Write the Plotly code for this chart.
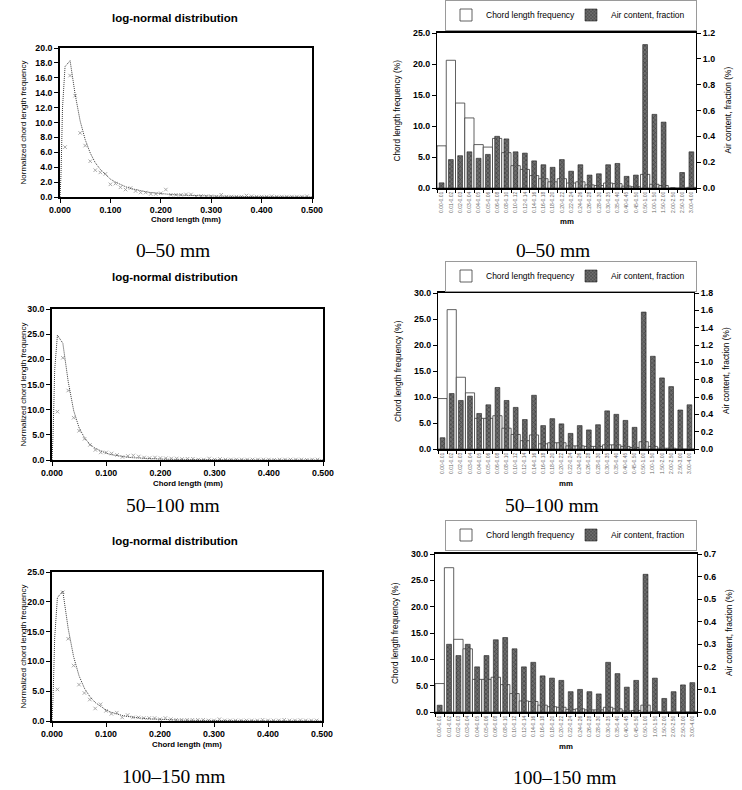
import plotly.graph_objects as go

W, H = 742, 790

# ---------------- data: log-normal panels ----------------
marker_x = [0.01, 0.02, 0.03, 0.04, 0.05, 0.06, 0.07, 0.08, 0.09, 0.10,
            0.11, 0.12, 0.13, 0.14, 0.15, 0.16, 0.17, 0.18, 0.19, 0.20,
            0.21, 0.22, 0.23, 0.24, 0.25, 0.26, 0.27, 0.28, 0.29, 0.30,
            0.31, 0.32, 0.33, 0.34, 0.35, 0.36, 0.37, 0.38, 0.39, 0.40,
            0.41, 0.42, 0.43, 0.44, 0.45, 0.46, 0.47, 0.48, 0.49]

meas_0_50 = [6.7, 16.3, 13.6, 8.6, 6.9, 4.8, 3.6, 3.3, 3.1, 1.7,
             1.8, 1.3, 1.0, 1.2, 0.8, 0.6, 0.6, 0.4, 0.4, 0.5,
             1.0, 0.3, 0.3, 0.3, 0.35, 0.35, 0.1, 0.15, 0.1, 0.1,
             0.05, 0.3, 0.05, 0.05, 0.05, 0.05, 0.2, 0.1, 0.05, 0.05,
             0.05, 0.1, 0.05, 0.05, 0.05, 0.05, 0.05, 0.05, 0.1]
meas_50_100 = [9.6, 20.3, 13.8, 8.4, 5.8, 4.2, 3.0, 2.0, 1.5, 1.5,
               1.3, 1.0, 0.6, 0.8, 0.9, 0.7, 0.5, 0.4, 0.5, 0.4,
               0.35, 0.3, 0.3, 0.2, 0.25, 0.25, 0.1, 0.1, 0.3, 0.1,
               0.2, 0.1, 0.1, 0.1, 0.1, 0.1, 0.1, 0.1, 0.1, 0.1,
               0.05, 0.1, 0.1, 0.1, 0.1, 0.1, 0.05, 0.1, 0.1]
meas_100_150 = [5.3, 21.6, 13.8, 9.3, 6.1, 4.7, 3.6, 2.1, 2.8, 1.7,
                1.2, 1.4, 0.6, 1.0, 0.6, 0.6, 0.5, 0.5, 0.5, 0.3,
                0.5, 0.3, 0.2, 0.2, 0.2, 0.2, 0.2, 0.2, 0.1, 0.1,
                0.3, 0.1, 0.1, 0.1, 0.1, 0.1, 0.1, 0.1, 0.2, 0.1,
                0.1, 0.1, 0.2, 0.1, 0.1, 0.15, 0.1, 0.1, 0.1]

fit_x = [0.0, 0.002, 0.005, 0.01, 0.02, 0.03, 0.04, 0.05, 0.06, 0.07, 0.08,
         0.09, 0.10, 0.11, 0.12, 0.13, 0.14, 0.15, 0.16, 0.17, 0.18, 0.19,
         0.20, 0.22, 0.24, 0.26, 0.28, 0.30, 0.35, 0.40, 0.45, 0.50]
fit_0_50 = [0.0, 3.0, 12.0, 17.5, 18.3, 13.8, 10.2, 7.7, 5.9, 4.6, 3.7,
            3.0, 2.4, 2.0, 1.65, 1.38, 1.15, 0.97, 0.82, 0.70, 0.60, 0.52,
            0.45, 0.34, 0.26, 0.20, 0.16, 0.125, 0.072, 0.043, 0.026, 0.017]
fit_50_100 = [0.0, 5.0, 18.0, 24.8, 23.2, 15.5, 9.8, 6.4, 4.4, 3.1, 2.3,
              1.75, 1.35, 1.05, 0.84, 0.68, 0.55, 0.45, 0.37, 0.31, 0.26, 0.22,
              0.19, 0.14, 0.105, 0.08, 0.062, 0.048, 0.027, 0.016, 0.010, 0.006]
fit_100_150 = [0.0, 4.0, 14.0, 20.7, 21.8, 15.5, 10.8, 7.6, 5.5, 4.1, 3.1,
               2.4, 1.85, 1.45, 1.15, 0.93, 0.76, 0.62, 0.51, 0.43, 0.36, 0.31,
               0.26, 0.19, 0.145, 0.11, 0.085, 0.066, 0.038, 0.023, 0.014, 0.009]

# ---------------- data: bar panels ----------------
bins = ["0.00-0.01", "0.01-0.02", "0.02-0.03", "0.03-0.04", "0.04-0.05",
        "0.05-0.06", "0.06-0.08", "0.08-0.10", "0.10-0.12", "0.12-0.14",
        "0.14-0.16", "0.16-0.18", "0.18-0.20", "0.20-0.22", "0.22-0.24",
        "0.24-0.26", "0.26-0.28", "0.28-0.30", "0.30-0.35", "0.35-0.40",
        "0.40-0.45", "0.45-0.50", "0.50-1.00", "1.00-1.50", "1.50-2.00",
        "2.00-2.50", "2.50-3.00", "3.00-4.00"]

freq_0_50 = [6.8, 20.6, 13.7, 11.3, 7.0, 6.6, 8.0, 5.7, 3.6, 3.0,
             2.0, 1.5, 1.0, 1.5, 0.8, 1.0, 0.5, 0.4, 0.8, 0.7,
             0.3, 0.2, 2.2, 0.6, 0.4, 0.0, 0.0, 0.1]
air_0_50 = [0.04, 0.22, 0.25, 0.28, 0.23, 0.26, 0.40, 0.38, 0.28, 0.27,
            0.21, 0.18, 0.16, 0.22, 0.13, 0.18, 0.10, 0.11, 0.18, 0.19,
            0.09, 0.10, 1.11, 0.57, 0.51, 0.0, 0.12, 0.28]

freq_50_100 = [9.7, 26.8, 13.8, 10.8, 5.9, 5.9, 6.4, 4.0, 2.8, 1.6,
               2.7, 1.0, 1.2, 1.2, 0.6, 0.6, 0.5, 0.5, 0.8, 0.8,
               0.5, 0.3, 1.4, 0.5, 0.15, 0.15, 0.0, 0.0]
air_50_100 = [0.13, 0.64, 0.56, 0.61, 0.41, 0.51, 0.71, 0.56, 0.48, 0.34,
              0.62, 0.27, 0.35, 0.29, 0.18, 0.27, 0.22, 0.28, 0.44, 0.40,
              0.33, 0.25, 1.58, 1.07, 0.82, 0.72, 0.45, 0.51]

freq_100_150 = [5.4, 27.4, 13.8, 12.0, 6.2, 6.2, 6.6, 5.2, 3.5, 2.1,
                2.0, 1.3, 1.0, 0.9, 0.5, 0.6, 0.4, 0.4, 0.9, 0.6,
                0.2, 0.3, 1.3, 0.1, 0.0, 0.0, 0.0, 0.0]
air_100_150 = [0.03, 0.30, 0.25, 0.30, 0.20, 0.25, 0.32, 0.33, 0.28, 0.20,
               0.22, 0.16, 0.15, 0.14, 0.09, 0.10, 0.09, 0.08, 0.22, 0.17,
               0.11, 0.14, 0.61, 0.15, 0.06, 0.09, 0.12, 0.13]

captions = ["0\u201350 mm", "50\u2013100 mm", "100\u2013150 mm"]

# ---------------- layout helpers ----------------
def xd(a, b):
    return [a / W, b / W]

def yd(top, bot):
    return [1 - bot / H, 1 - top / H]

def px(x):
    return x / W

def py(y):
    return 1 - y / H

SANS = "Liberation Sans, Arial, sans-serif"
SERIF = "Liberation Serif, Times New Roman, serif"

fig = go.Figure()

left_boxes = [(60, 312, 48, 197), (52, 323, 309, 460), (52, 322, 572, 721)]
left_ranges = [(20, 2), (30, 5), (25, 5)]
meas = [meas_0_50, meas_50_100, meas_100_150]
fits = [fit_0_50, fit_50_100, fit_100_150]
title_y = [18, 277, 541]
left_caption_y = [250, 505, 776]

right_boxes = [(437, 696, 33, 188), (438, 694, 293, 449), (435, 697, 554, 712)]
right_left_ranges = [(25, 5), (30, 5), (30, 5)]
right_right_ranges = [(1.2, 0.2), (1.8, 0.2), (0.7, 0.1)]
freqs = [freq_0_50, freq_50_100, freq_100_150]
airs = [air_0_50, air_50_100, air_100_150]
right_caption = [(553, 250), (552, 505), (564, 777)]
legend_mid = [15, 276, 535]

layout = dict(
    width=W, height=H, margin=dict(l=0, r=0, t=0, b=0, autoexpand=False),
    paper_bgcolor="white", plot_bgcolor="white",
    barmode="overlay", showlegend=True,
    font=dict(family=SANS, color="black"),
)

annotations = []


def ann(text, x, y, size, family=SANS, angle=0, color="black"):
    annotations.append(dict(text=text, x=px(x), y=py(y), xref="paper", yref="paper",
                            xanchor="center", yanchor="middle", textangle=angle,
                            showarrow=False,
                            font=dict(family=family, size=size, color=color)))


tick_bold = dict(family=SANS, size=8.8, color="black", weight=700)

for i in range(3):
    n = i + 1
    xl, xr, yt, yb = left_boxes[i]
    xa = "x" if n == 1 else f"x{n}"
    ya = "y" if n == 1 else f"y{n}"
    fig.add_trace(go.Scatter(
        x=marker_x, y=meas[i], mode="markers", xaxis=xa, yaxis=ya,
        marker=dict(symbol="x-thin", size=3.5, line=dict(color="#a0a0a0", width=0.9)),
        showlegend=False))
    fig.add_trace(go.Scatter(
        x=fit_x, y=fits[i], mode="lines", xaxis=xa, yaxis=ya,
        line=dict(color="#3a3a3a", width=1.0, dash="1px,1px"),
        showlegend=False))
    top, dt = left_ranges[i]
    sfx = "" if n == 1 else str(n)
    layout["xaxis" + sfx] = dict(
        domain=xd(xl, xr), anchor=ya, range=[0, 0.5], dtick=0.1, tick0=0,
        tickformat=".3f", showline=True, linecolor="black", linewidth=1.5,
        mirror=True, ticks="outside", ticklen=4, tickwidth=1.2, tickcolor="black",
        showgrid=False, zeroline=False, tickfont=tick_bold)
    layout["yaxis" + sfx] = dict(
        domain=yd(yt, yb), anchor=xa, range=[0, top], dtick=dt, tick0=0,
        tickformat=".1f", showline=True, linecolor="black", linewidth=1.5,
        mirror=True, ticks="outside", ticklen=4, tickwidth=1.2, tickcolor="black",
        showgrid=False, zeroline=False, tickfont=tick_bold)
    ann("<b>log-normal distribution</b>", 175, title_y[i], 11.5)
    ann("<b>Chord length (mm)</b>", (xl + xr) / 2, yb + 23, 7.8)
    ann("Normalized chord length frequency", 23, (yt + yb) / 2, 8, angle=-90)
    ann(captions[i], 173, left_caption_y[i], 19.5, family=SERIF)

for i in range(3):
    n = 4 + i
    m = 7 + i
    xl, xr, yt, yb = right_boxes[i]
    xa = f"x{n}"
    ya = f"y{n}"
    ya2 = f"y{m}"
    lg = "legend" if i == 0 else f"legend{i + 1}"
    fig.add_trace(go.Bar(
        x=bins, y=freqs[i], xaxis=xa, yaxis=ya, width=1.0,
        name="Chord length frequency", legend=lg,
        marker=dict(color="white", line=dict(color="#3a3a3a", width=0.8))))
    fig.add_trace(go.Bar(
        x=bins, y=airs[i], xaxis=xa, yaxis=ya2, width=0.52,
        name="Air content, fraction", legend=lg,
        marker=dict(color="#6e6e6e", line=dict(color="#222222", width=0.6),
                    pattern=dict(shape="x", fgcolor="#1e1e1e", size=3, solidity=0.45))))
    lt, ldt = right_left_ranges[i]
    rt, rdt = right_right_ranges[i]
    layout[f"xaxis{n}"] = dict(
        domain=xd(xl, xr), anchor=ya, type="category", categoryorder="array",
        categoryarray=bins, range=[-0.5, len(bins) - 0.5],
        tickmode="array", tickvals=bins, ticktext=bins, tickangle=-90,
        tickfont=dict(family=SANS, size=5, color="#666666"),
        ticks="outside", tickson="boundaries", ticklen=3, tickwidth=0.8,
        tickcolor="black", showline=True, linecolor="black", linewidth=1.6,
        mirror=True, showgrid=False, zeroline=False)
    layout[f"yaxis{n}"] = dict(
        domain=yd(yt, yb), anchor=xa, range=[0, lt], dtick=ldt, tick0=0,
        tickformat=".1f", showline=True, linecolor="black", linewidth=1.2,
        ticks="outside", ticklen=4, tickwidth=1.2, tickcolor="black",
        showgrid=False, zeroline=False, tickfont=tick_bold)
    layout[f"yaxis{m}"] = dict(
        domain=yd(yt, yb), anchor=xa, overlaying=ya, side="right",
        range=[0, rt], dtick=rdt, tick0=0, tickformat=".1f",
        showline=True, linecolor="black", linewidth=1.2,
        ticks="outside", ticklen=4, tickwidth=1.2, tickcolor="black",
        showgrid=False, zeroline=False, tickfont=tick_bold)
    layout[lg] = dict(
        orientation="h", x=px(445), xanchor="left",
        y=py(legend_mid[i]), yanchor="middle",
        bgcolor="rgba(255,255,255,0)", bordercolor="#9a9a9a", borderwidth=1,
        font=dict(family=SANS, size=8.5, color="black"),
        entrywidth=80, entrywidthmode="pixels", itemwidth=30,
        tracegroupgap=0)
    ann("Chord length frequency (%)", xl - 40, (yt + yb) / 2, 8.3, angle=-90)
    ann("Air content, fraction (%)", xr + 32, (yt + yb) / 2, 8.3, angle=-90)
    ann("<b>mm</b>", (xl + xr) / 2, yb + 34, 7.8)
    cx, cy = right_caption[i]
    ann(captions[i], cx, cy, 19.5, family=SERIF)

layout["annotations"] = annotations
fig.update_layout(**layout)
fig.write_html("out.html")
